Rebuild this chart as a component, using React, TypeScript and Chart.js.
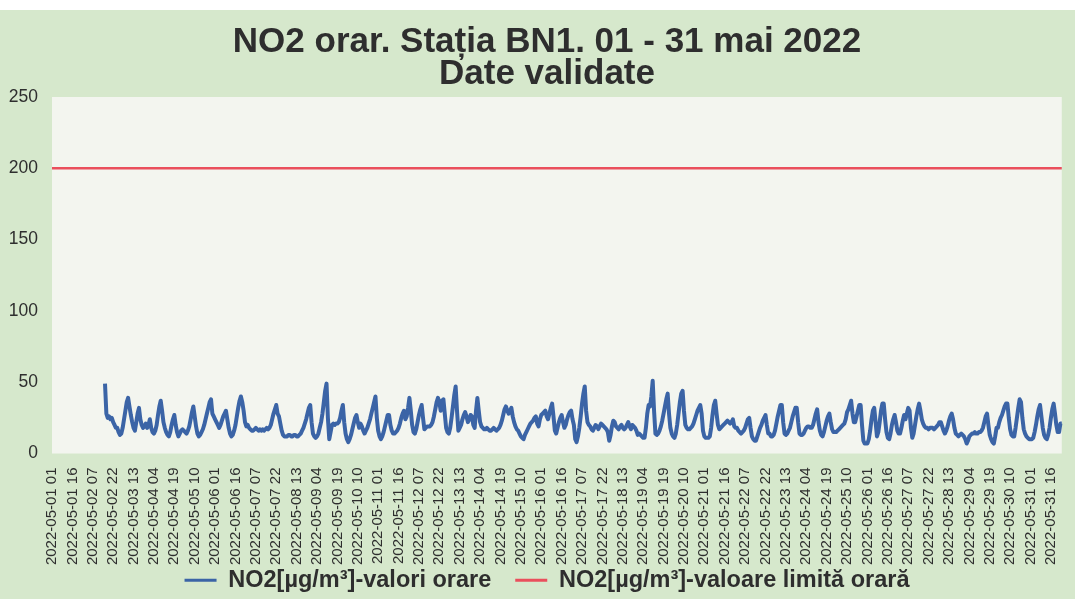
import { useEffect, useRef } from 'react';
import { Chart, registerables } from 'chart.js';

Chart.register(...registerables);

const titleLines = ['NO2 orar. Stația BN1. 01 - 31 mai 2022', 'Date validate'];
const seriesName = 'NO2[µg/m³]-valori orare';
const limitName = 'NO2[µg/m³]-valoare limită orară';
const limitValue = 200;
const yTicks = [0, 50, 100, 150, 200, 250];

const days = ['01','02','03','04','05','06','07','08','09','10','11','12','13','14','15','16','17','18','19','20','21','22','23','24','25','26','27','28','29','30','31'];
const hours = ['01','02','03','04','05','06','07','08','09','10','11','12','13','14','15','16','17','18','19','20','21','22','23','24'];

const N = null;
const may01 = [N,N,N,N,N,N,N,N,N,N,N,N,N,N,N,N,N,N,N,N,N,N,N,N];
const may02 = [N,N,N,N,N,N,N,N,N,N,N,N,N,N,N,49,28,25,26,24,25,22,20,18];
const may03 = [18,15,13,14,18,24,30,36,39,33,27,22,18,16,22,28,32,24,20,18,19,21,18,20];
const may04 = [24,18,15,14,16,20,27,33,37,30,22,18,15,13,12,15,20,24,27,20,15,12,14,16];
const may05 = [17,16,15,14,16,19,24,29,33,26,19,14,12,13,15,17,20,24,28,32,36,38,28,26];
const may06 = [24,22,20,18,20,23,26,28,30,24,18,14,12,13,16,20,26,32,37,40,36,30,22,19];
const may07 = [20,18,17,16,16,17,18,17,16,17,16,17,16,17,18,17,18,20,24,28,31,34,28,26];
const may08 = [21,16,13,12,12,12,13,13,12,12,13,13,12,12,13,14,16,18,21,24,28,32,34,22];
const may09 = [14,12,11,12,14,18,22,28,36,44,49,25,10,15,20,21,20,21,21,22,25,30,34,22];
const may10 = [14,10,8,10,13,17,21,25,27,22,18,21,19,16,14,16,18,21,24,28,32,36,40,25];
const may11 = [16,12,10,12,15,19,23,27,27,20,16,14,14,15,16,18,21,25,28,30,24,26,32,39];
const may12 = [30,20,15,14,17,22,27,31,34,25,17,18,19,19,19,20,22,26,31,36,39,36,30,37];
const may13 = [38,28,18,15,14,18,25,33,41,47,30,16,18,20,24,27,29,26,22,24,27,26,20,18];
const may14 = [30,39,30,22,19,18,17,17,18,17,16,16,17,18,17,16,17,18,20,23,27,31,33,30];
const may15 = [28,30,32,26,22,19,17,16,14,12,11,10,13,15,17,19,21,22,23,25,26,21,19,24];
const may16 = [27,28,29,30,26,24,28,32,35,26,16,14,18,22,25,27,22,18,20,24,27,29,30,24];
const may17 = [20,10,8,12,18,26,35,42,47,30,22,20,19,17,16,18,20,19,17,19,21,20,19,18];
const may18 = [17,15,9,13,19,23,22,19,18,17,19,20,18,17,18,20,22,19,17,20,19,18,16,13];
const may19 = [14,13,12,11,11,18,28,34,33,40,51,30,14,13,14,16,19,23,28,33,38,42,28,18];
const may20 = [14,12,11,14,20,28,36,42,44,30,20,18,17,17,18,19,21,24,27,30,32,34,28,16];
const may21 = [12,11,11,11,12,18,27,34,37,28,20,17,18,19,20,21,22,23,22,21,22,24,19,18];
const may22 = [18,16,15,14,15,16,18,21,24,25,18,12,10,9,9,12,15,18,20,23,25,27,20,14];
const may23 = [14,12,12,13,16,21,26,30,34,34,22,14,13,14,16,18,22,26,29,32,32,22,14,13];
const may24 = [13,14,16,18,19,19,18,18,20,24,28,31,22,16,13,12,15,19,23,26,28,22,17,15];
const may25 = [15,15,16,17,18,19,20,21,24,29,31,34,37,28,22,22,26,30,34,34,20,9,7,7];
const may26 = [7,10,16,24,30,32,22,12,15,22,30,35,35,24,15,11,10,14,20,24,27,22,16,14];
const may27 = [14,18,23,27,24,28,32,30,18,11,14,20,26,31,35,30,24,21,19,18,18,17,18,18];
const may28 = [18,17,18,19,20,22,22,19,16,14,16,19,23,26,28,24,18,14,13,12,13,14,13,12];
const may29 = [10,7,9,12,13,14,14,15,14,14,15,15,16,18,22,26,28,20,13,10,8,7,12,18];
const may30 = [18,22,25,27,30,33,35,35,25,17,13,12,12,18,25,32,38,36,25,17,14,12,11,10];
const may31 = [10,10,11,15,20,26,31,34,26,18,13,11,10,13,18,25,31,35,28,20,15,15,21,21];

const no2Values: (number | null)[] = [
  ...may01, ...may02, ...may03, ...may04, ...may05, ...may06, ...may07, ...may08,
  ...may09, ...may10, ...may11, ...may12, ...may13, ...may14, ...may15, ...may16,
  ...may17, ...may18, ...may19, ...may20, ...may21, ...may22, ...may23, ...may24,
  ...may25, ...may26, ...may27, ...may28, ...may29, ...may30, ...may31,
];

const labels: string[] = [];
days.forEach((d) => hours.forEach((h) => labels.push(`2022-05-${d} ${h}`)));
const limitValues = labels.map(() => limitValue);
const labelEvery = 15;

const GREEN = '#d6e8cc';
const PLOT_BG = '#f3f5ef';
const BLUE = '#3b64a6';
const RED = '#ea4f5c';
const TEXT = '#2e2e2e';
const FONT = "'Liberation Sans', Arial, sans-serif";

const bgPlugin = {
  id: 'bgPlugin',
  beforeDraw(chart: any) {
    const { ctx, width, height, chartArea } = chart;
    ctx.save();
    ctx.fillStyle = '#ffffff';
    ctx.fillRect(0, 0, width, height);
    ctx.fillStyle = GREEN;
    ctx.fillRect(0, 10, width, height - 10);
    ctx.fillStyle = PLOT_BG;
    ctx.fillRect(chartArea.left, chartArea.top, chartArea.right - chartArea.left, chartArea.bottom - chartArea.top);
    ctx.restore();
  },
};

export default function App() {
  const ref = useRef<HTMLCanvasElement>(null);
  useEffect(() => {
    document.body.style.margin = '0';
    const canvas = ref.current;
    if (!canvas) return;
    const chart = new Chart(canvas, {
      type: 'line',
      data: {
        labels,
        datasets: [
          {
            label: seriesName,
            data: no2Values,
            borderColor: BLUE,
            backgroundColor: BLUE,
            borderWidth: 4,
            pointRadius: 0,
            tension: 0,
            spanGaps: false,
            borderJoinStyle: 'round',
          },
          {
            label: limitName,
            data: limitValues,
            borderColor: RED,
            backgroundColor: RED,
            borderWidth: 2.5,
            pointRadius: 0,
          },
        ],
      },
      options: {
        animation: false,
        responsive: false,
        devicePixelRatio: 1,
        events: [],
        layout: { padding: { left: 28, right: 9, top: 0, bottom: -3 } },
        plugins: {
          title: {
            display: true,
            text: titleLines,
            color: TEXT,
            font: { family: FONT, size: 35, weight: 'bold', lineHeight: 0.9 },
            padding: { top: 27, bottom: 7 },
          },
          legend: {
            position: 'bottom',
            labels: {
              boxWidth: 32,
              boxHeight: 3,
              color: TEXT,
              font: { family: FONT, size: 23.5, weight: 'bold', lineHeight: 1 },
              padding: 24,
              generateLabels: (c: any) =>
                Chart.defaults.plugins.legend.labels.generateLabels(c).map((l: any) => ({ ...l, lineWidth: 0 })),
            },
          },
          tooltip: { enabled: false },
        },
        scales: {
          x: {
            type: 'category',
            offset: false,
            grid: { display: false },
            border: { display: false },
            ticks: {
              autoSkip: false,
              maxRotation: 90,
              minRotation: 90,
              padding: 6,
              color: TEXT,
              font: { family: FONT, size: 15 },
              callback: (_v: any, i: number) => (i % labelEvery === 0 ? labels[i] : null),
            },
            afterFit: (s: any) => {
              s.height = 91;
              s._computeLabelArea = () => undefined;
            },
          },
          y: {
            min: yTicks[0],
            max: yTicks[yTicks.length - 1],
            grid: { display: false },
            border: { display: false },
            ticks: {
              stepSize: 50,
              padding: 6,
              color: TEXT,
              font: { family: FONT, size: 17.5 },
            },
            afterFit: (s: any) => {
              s.width = 24;
              s._computeLabelArea = () => undefined;
            },
          },
        },
      },
      plugins: [bgPlugin],
    } as any);
    return () => chart.destroy();
  }, []);
  return (
    <div style={{ width: 1075, height: 599 }}>
      <canvas ref={ref} width={1075} height={599} />
    </div>
  );
}
